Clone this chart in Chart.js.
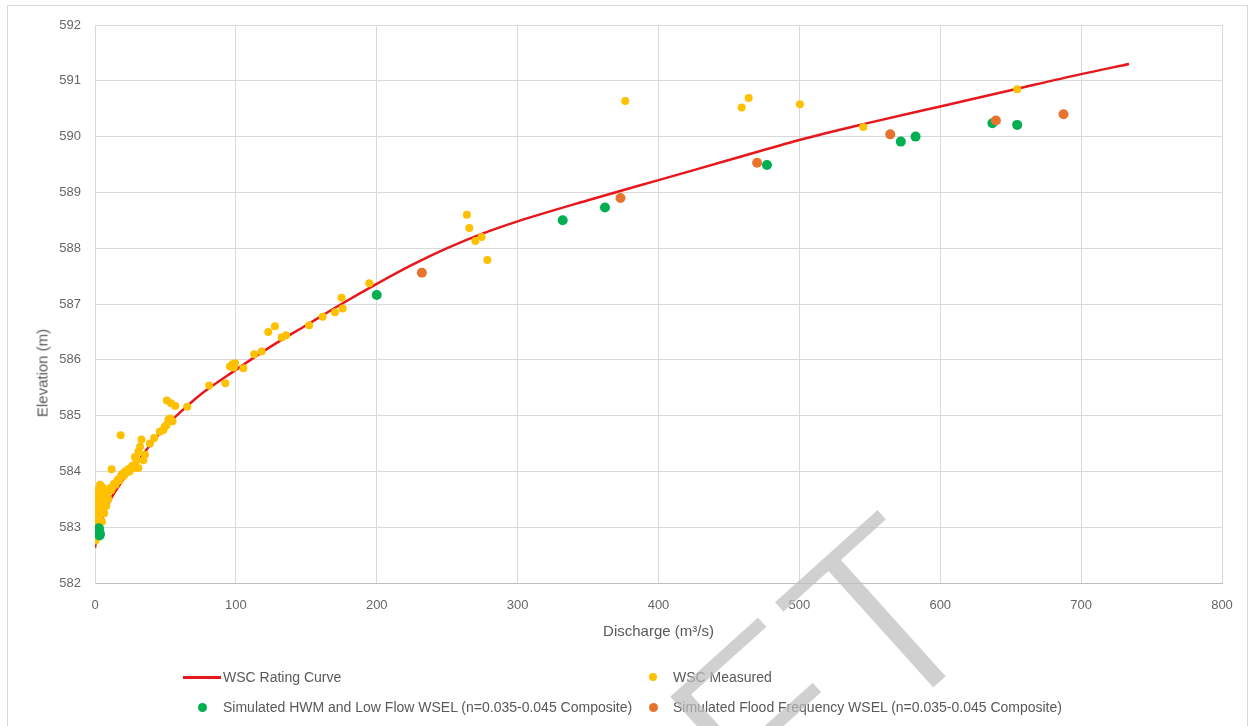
<!DOCTYPE html>
<html>
<head>
<meta charset="utf-8">
<title>Rating Curve</title>
<script src="https://cdn.jsdelivr.net/npm/chart.js@4.4.1/dist/chart.umd.min.js"></script>
<style>
  html, body { margin: 0; padding: 0; background: #ffffff; }
  #wrap { position: relative; width: 1250px; height: 726px; overflow: hidden;
          font-family: 'Liberation Sans', Arial, sans-serif; }
  #frame { position: absolute; left: 7px; top: 5px; width: 1241px; height: 740px;
           border: 1px solid #d9d9d9; box-sizing: border-box; }
  #chart, #mark { position: absolute; left: 0; top: 0; }
  #mark { pointer-events: none; }
  #ytitle { position: absolute; left: 42px; top: 373px; white-space: nowrap;
            transform: translate(-50%, -50%) rotate(-90deg);
            font-size: 15px; color: #595959; }
  .leg-text { position: absolute; white-space: nowrap; font-size: 14px; color: #595959;
              line-height: 16px; transform: translateY(-50%); }
  .leg-mark { position: absolute; }
</style>
</head>
<body>
<div id="wrap">
  <div id="frame"></div>
  <canvas id="chart" width="1250" height="726"></canvas>
  <div id="ytitle">Elevation (m)</div>
  <div id="legend"></div>
  <canvas id="mark" width="1250" height="726"></canvas>
</div>
<script>
// Rating curve (discharge m3/s, elevation m)
const ratingQ  = [0, 2, 5, 10, 20, 30, 40, 50, 60, 75, 100, 125, 150, 175, 200, 225, 250, 275, 300, 350, 400, 450, 500, 550, 600, 650, 700, 734];
const ratingEl = [582.63, 582.9, 583.15, 583.45, 583.85, 584.17, 584.5, 584.8, 585.05, 585.38, 585.82, 586.24, 586.62, 587.0, 587.36, 587.7, 588.0, 588.26, 588.48, 588.86, 589.22, 589.58, 589.94, 590.25, 590.54, 590.83, 591.12, 591.3];

// Measured gauge data
const measuredQ = [
  0.3, 0.8, 0.5, 1.2, 0.4, 1.5, 0.8, 2.2, 0.5, 1.6, 2.8, 3.5, 0.9, 2.2, 3.4, 4.6, 0.4, 1.5, 2.8, 4.0,
  5.5, 6.8, 0.8, 2.0, 3.2, 4.6, 6.0, 7.6, 0.4, 1.4, 2.6, 3.8, 5.4, 8.5, 0.8, 2.2, 3.6, 5.0, 9.5, 10.5,
  11.5, 12.5, 13.5, 14.5, 15.5, 16.5, 17.5, 18.5, 19.5, 20.5, 21.5, 22.5, 23.5, 24.5, 25.5, 26.5, 27.5, 11.8, 18.2, 28.4,
  29.5, 30.8, 32, 33, 34.3, 30.8, 35.5, 39, 42, 46, 48.5, 50.9, 52, 53.2, 49.5, 55, 51, 54, 57, 65.5,
  81, 92.5, 95.8, 97.5, 99.4, 98.5, 105.3, 113, 118.3, 123, 127.7, 132.5, 135.6, 152, 161.6, 170.3, 175, 175.8, 194.7, 264,
  265.7, 270, 274.4, 278.5, 376.4, 459, 464, 500.4, 545.3, 654.6, 5, 6.5, 8, 9.5
];
const measuredEl = [
  582.76, 582.84, 582.92, 582.98, 583.05, 583.08, 583.14, 583.12, 583.22, 583.2, 583.18, 583.22, 583.3, 583.28, 583.3, 583.32, 583.38, 583.4, 583.38, 583.42,
  583.4, 583.44, 583.48, 583.5, 583.48, 583.52, 583.5, 583.52, 583.56, 583.6, 583.58, 583.6, 583.62, 583.6, 583.66, 583.66, 583.76, 583.72, 583.66, 583.7,
  583.66, 583.72, 583.78, 583.76, 583.82, 583.86, 583.84, 583.92, 583.96, 583.92, 584.0, 583.98, 584.04, 584.0, 584.06, 584.1, 584.06, 584.04, 584.65, 584.26,
  584.2, 584.35, 584.44, 584.57, 584.2, 584.06, 584.3, 584.5, 584.6, 584.71, 584.74, 584.83, 584.92, 584.95, 584.8, 584.9, 585.27, 585.22, 585.17, 585.16,
  585.54, 585.58, 585.88, 585.92, 585.94, 585.86, 585.85, 586.1, 586.15, 586.5, 586.6, 586.4, 586.44, 586.62, 586.77, 586.85, 587.11, 586.92, 587.37, 588.6,
  588.36, 588.13, 588.2, 587.79, 590.64, 590.52, 590.69, 590.58, 590.17, 590.85, 583.1, 583.25, 583.38, 583.5
];

// Simulated HWM and low flow water surface elevations
const hwmQ  = [2.5, 3.0, 3.2, 2.8, 3.5, 200, 332, 362, 477, 572, 582.5, 637, 654.6];
const hwmEl = [582.95, 582.9, 582.85, 582.98, 582.88, 587.16, 588.5, 588.73, 589.49, 589.91, 590.0, 590.24, 590.21];

// Simulated flood frequency water surface elevations
const floodQ  = [232, 373, 470, 564.5, 639.5, 687.5];
const floodEl = [587.56, 588.9, 589.53, 590.04, 590.29, 590.4];

// Axis ranges [min, max, step]
const xRange = [0, 800, 100];
const yRange = [582, 592, 1];

const seriesNames = [
  'WSC Rating Curve',
  'WSC Measured',
  'Simulated HWM and Low Flow WSEL (n=0.035-0.045 Composite)',
  'Simulated Flood Frequency WSEL (n=0.035-0.045 Composite)'
];
const seriesColors = ['#e8171c', '#ffc000', '#00b050', '#e8732f'];

const pts = (xs, ys) => xs.map((x, i) => ({ x: x, y: ys[i] }));

const tickFont = { family: "'Liberation Sans', Arial, sans-serif", size: 13 };
const gridColor = '#d9d9d9';
const textColor = '#666666';

new Chart(document.getElementById('chart'), {
  type: 'scatter',
  data: {
    datasets: [
      { label: seriesNames[0], type: 'line', data: pts(ratingQ, ratingEl),
        borderColor: seriesColors[0], backgroundColor: seriesColors[0], borderWidth: 2.5,
        pointRadius: 0, cubicInterpolationMode: 'monotone', fill: false, order: 4 },
      { label: seriesNames[1], data: pts(measuredQ, measuredEl),
        backgroundColor: seriesColors[1], borderWidth: 0, pointRadius: 4, order: 3 },
      { label: seriesNames[2], data: pts(hwmQ, hwmEl),
        backgroundColor: seriesColors[2], borderWidth: 0, pointRadius: 5, order: 2 },
      { label: seriesNames[3], data: pts(floodQ, floodEl),
        backgroundColor: seriesColors[3], borderWidth: 0, pointRadius: 5, order: 1 }
    ]
  },
  options: {
    responsive: false,
    animation: false,
    devicePixelRatio: 1,
    events: [],
    layout: { padding: { left: 20, right: 28, top: 25, bottom: 85 } },
    plugins: { legend: { display: false }, tooltip: { enabled: false } },
    scales: {
      x: {
        type: 'linear', min: xRange[0], max: xRange[1],
        ticks: { stepSize: xRange[2], color: textColor, font: tickFont, padding: 15 },
        grid: { color: gridColor, drawTicks: false },
        border: { color: '#bfbfbf' },
        title: { display: true, text: 'Discharge (m³/s)', color: '#595959',
                 font: { family: "'Liberation Sans', Arial, sans-serif", size: 15 },
                 padding: { top: 0, bottom: 0 } },
        afterFit: (s) => { s.height = 58; }
      },
      y: {
        type: 'linear', min: yRange[0], max: yRange[1],
        ticks: { stepSize: yRange[2], color: textColor, font: tickFont, padding: 14 },
        grid: { color: gridColor, drawTicks: false },
        border: { color: gridColor },
        afterFit: (s) => { s.width = 75; }
      }
    }
  }
});

// Two-column legend below the plot
const legend = document.getElementById('legend');
const legendSlots = [
  { col: 0, row: 0, kind: 'line' },
  { col: 1, row: 0, kind: 'dot', r: 4 },
  { col: 0, row: 1, kind: 'dot', r: 4.5 },
  { col: 1, row: 1, kind: 'dot', r: 4.5 }
];
const colMarkX = [202, 653];
const colTextX = [223, 673];
const rowY = [677, 707];
legendSlots.forEach((slot, i) => {
  const m = document.createElement('div');
  m.className = 'leg-mark';
  const cx = colMarkX[slot.col], cy = rowY[slot.row];
  if (slot.kind === 'line') {
    Object.assign(m.style, { left: '183px', top: (cy - 1.5) + 'px', width: '38px', height: '3px',
                             background: seriesColors[i] });
  } else {
    const d = slot.r * 2;
    Object.assign(m.style, { left: (cx - slot.r) + 'px', top: (cy - slot.r) + 'px', width: d + 'px',
                             height: d + 'px', borderRadius: '50%', background: seriesColors[i] });
  }
  legend.appendChild(m);
  const t = document.createElement('div');
  t.className = 'leg-text';
  t.textContent = seriesNames[i];
  t.style.left = colTextX[slot.col] + 'px';
  t.style.top = cy + 'px';
  legend.appendChild(t);
});

// Watermark stamp across the lower part of the figure (thinned letters)
const wm = document.getElementById('mark').getContext('2d');
wm.save();
wm.translate(1000, 632);
wm.rotate(-42 * Math.PI / 180);
wm.font = "256px 'Liberation Sans'";
wm.textAlign = 'right';
wm.textBaseline = 'alphabetic';
wm.fillStyle = 'rgb(190,190,190)';
wm.fillText('DRAFT', 0, 0);
wm.globalCompositeOperation = 'destination-out';
wm.lineWidth = 7;
wm.lineJoin = 'miter';
wm.strokeStyle = '#000';
wm.strokeText('DRAFT', 0, 0);
wm.restore();
document.getElementById('mark').style.opacity = '0.72';
</script>
</body>
</html>
